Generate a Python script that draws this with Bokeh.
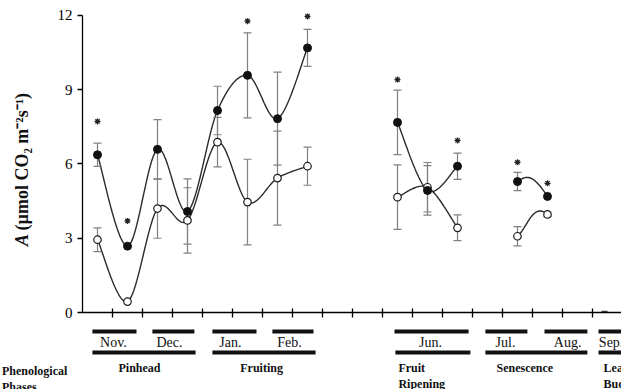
import numpy as np
from bokeh.plotting import figure
from bokeh.models import Range1d, FixedTicker
from bokeh.layouts import column, row
from bokeh.core.properties import value
from bokeh.embed import file_html
from bokeh.resources import INLINE

# ---------------- data ----------------
# sampling slots on the time axis (two samplings per month)
sample_x = [0.5, 1.5, 2.5, 3.5, 4.5, 5.5, 6.5, 7.5, 10.5, 11.5, 12.5, 14.5, 15.5]
# filled circles
series_a = [6.37, 2.68, 6.59, 4.08, 8.16, 9.58, 7.83, 10.69, 7.68, 4.93, 5.91, 5.29, 4.69]
series_a_err = [0.47, 0.0, 1.20, 1.32, 0.98, 1.72, 1.88, 0.75, 1.30, 1.00, 0.53, 0.37, 0.0]
# open circles
series_b = [2.94, 0.44, 4.20, 3.72, 6.88, 4.46, 5.43, 5.91, 4.66, 5.06, 3.42, 3.08, 3.96]
series_b_err = [0.48, 0.0, 1.20, 1.32, 1.00, 1.73, 1.90, 0.77, 1.30, 1.00, 0.52, 0.39, 0.10]
# continuous runs of samplings
runs = [(0, 8), (8, 11), (11, 13)]
# significance asterisks
sig_x = [0.5, 1.5, 5.5, 7.5, 10.5, 12.5, 14.5, 15.5]
sig_y = [7.72, 3.70, 11.77, 11.96, 9.41, 6.95, 6.07, 5.22]
# September reading (near zero)
sep_x = [17.4]
sep_y = [0.03]

y_ticks = [0, 3, 6, 9, 12]
x_ticks = list(range(1, 18))

months = ["Nov.", "Dec.", "Jan.", "Feb.", "Jun.", "Jul.", "Aug.", "Sep."]
month_start = [0.33, 2.33, 4.33, 6.33, 10.40, 13.43, 15.40, 17.20]
month_end = [1.80, 3.73, 5.80, 7.70, 12.87, 14.83, 16.83, 18.60]
month_label_x = [1.03, 2.90, 4.93, 6.90, 11.60, 14.10, 16.17, 17.62]

phase_line1 = ["Pinhead", "Fruiting", "Fruit", "Senescence", "Leaf"]
phase_line2 = ["", "", "Ripening", "", "Budding"]
phase_start = [0.33, 4.33, 10.43, 13.43, 17.20]
phase_end = [3.77, 7.77, 12.93, 16.83, 18.60]
phase_label_x = [1.90, 5.97, 10.53, 13.80, 17.37]
phase_align = ["center", "center", "left", "left", "left"]

y_title_main = "A"
y_title_rest = "(µmol CO₂ m⁻²s⁻¹)"

# ---------------- layout constants ----------------
W = 621
TITLE_W = 40
LEFT = 82
PX_PER_X = 30.0
FRAME_W = W - LEFT
H1 = 322
H2 = 67

SERIF = "Liberation Serif"
CURVE = "#2a2a2a"
ERR = "#808080"
INK = "#111111"


def smooth(xs, ys, pre=None, post=None, n=30):
    """Excel-like smoothed line (Bezier with 1/6 tangents)."""
    pts = np.column_stack([xs, ys]).astype(float)
    first = np.array(pre, float) if pre is not None else pts[0]
    last = np.array(post, float) if post is not None else pts[-1]
    ext = np.vstack([first, pts, last])
    t = np.linspace(0, 1, n)[:, None]
    out = []
    for i in range(1, len(ext) - 2):
        p0, p1, p2, p3 = ext[i - 1], ext[i], ext[i + 1], ext[i + 2]
        c1 = p1 + (p2 - p0) / 6.0
        c2 = p2 - (p3 - p1) / 6.0
        seg = ((1 - t) ** 3) * p1 + 3 * ((1 - t) ** 2) * t * c1 + 3 * (1 - t) * t ** 2 * c2 + t ** 3 * p2
        out.append(seg if i == 1 else seg[1:])
    arr = np.vstack(out)
    return arr[:, 0], arr[:, 1]


# curve-shape guides for the short Jul/Aug runs (lead-in, lead-out)
guides_a = {2: ((13.5, 3.0), (17.4, 0.0))}
guides_b = {2: ((13.5, 1.8), (17.4, 0.0))}

# ---------------- y-axis title panel ----------------
yl = figure(width=TITLE_W, height=H1, x_range=Range1d(0, TITLE_W), y_range=Range1d(H1, 0),
            x_axis_type=None, y_axis_type=None, toolbar_location=None, output_backend="svg",
            min_border=0, min_border_left=0, min_border_right=0, min_border_top=0, min_border_bottom=0)
yl.outline_line_color = None
yl.grid.visible = False
TITLE_BASE_X = 21
yl.text(x=[TITLE_BASE_X], y=[251], text=[y_title_main], angle=np.pi / 2,
        text_font=value(SERIF), text_font_size="18px", text_font_style="bold italic",
        text_align="left", text_baseline="alphabetic", text_color=INK)
yl.text(x=[TITLE_BASE_X], y=[234.5], text=[y_title_rest], angle=np.pi / 2,
        text_font=value(SERIF), text_font_size="18px", text_font_style="bold",
        text_align="left", text_baseline="alphabetic", text_color=INK)

# ---------------- main chart ----------------
p = figure(width=W - TITLE_W, height=H1,
           x_range=Range1d(0, FRAME_W / PX_PER_X), y_range=Range1d(0, 12.2),
           toolbar_location=None, output_backend="svg",
           min_border_left=LEFT - TITLE_W, min_border_right=0, min_border_top=10, min_border_bottom=10)
p.outline_line_color = None
p.grid.visible = False

xa = np.array(sample_x)
for k, (s, e) in enumerate(runs):
    pre, post = guides_a.get(k, (None, None))
    cx, cy = smooth(xa[s:e], series_a[s:e], pre, post)
    p.line(cx, cy, line_color=CURVE, line_width=1.4)
    pre, post = guides_b.get(k, (None, None))
    cx, cy = smooth(xa[s:e], series_b[s:e], pre, post)
    p.line(cx, cy, line_color=CURVE, line_width=1.4)

for vals, errs in ((series_a, series_a_err), (series_b, series_b_err)):
    ex = [x for x, e in zip(sample_x, errs) if e > 0]
    lo = [v - e for v, e in zip(vals, errs) if e > 0]
    hi = [v + e for v, e in zip(vals, errs) if e > 0]
    p.segment(x0=ex, y0=lo, x1=ex, y1=hi, line_color=ERR, line_width=1.2)
    p.scatter(ex + ex, lo + hi, marker="dash", size=8, line_color=ERR, line_width=1.2)

p.scatter(sample_x, series_b, marker="circle", size=7.5, fill_color="white",
          line_color="#1a1a1a", line_width=1.2)
p.scatter(sample_x, series_a, marker="circle", size=8, fill_color=INK,
          line_color=INK, line_width=1)
p.scatter(sig_x, sig_y, marker="asterisk", size=6, line_color="#222222", line_width=1.3)
p.scatter(sep_x, sep_y, marker="dash", size=6, line_color="#444444", line_width=2)

yax = p.yaxis[0]
yax.ticker = FixedTicker(ticks=y_ticks)
yax.bounds = (0, 12)
yax.minor_tick_line_color = None
yax.major_tick_in = 0
yax.major_tick_out = 5
yax.axis_line_width = 1.3
yax.major_tick_line_width = 1.3
yax.axis_line_color = "black"
yax.major_tick_line_color = "black"
yax.major_label_standoff = 5
yax.major_label_text_font = SERIF
yax.major_label_text_font_size = "15px"
yax.major_label_text_color = "black"

xax = p.xaxis[0]
xax.ticker = FixedTicker(ticks=[], minor_ticks=x_ticks)
xax.major_tick_line_color = None
xax.minor_tick_in = 4
xax.minor_tick_out = 5
xax.minor_tick_line_width = 1.3
xax.minor_tick_line_color = "black"
xax.axis_line_width = 1.3
xax.axis_line_color = "black"

# ---------------- phenology strip ----------------
q = figure(width=W, height=H2,
           x_range=Range1d(-LEFT / PX_PER_X, FRAME_W / PX_PER_X), y_range=Range1d(H2, 0),
           x_axis_type=None, y_axis_type=None, toolbar_location=None, output_backend="svg",
           min_border=0, min_border_left=0, min_border_right=0, min_border_top=0, min_border_bottom=0)
q.outline_line_color = None
q.grid.visible = False

ROW_BAR1, ROW_MONTH, ROW_BAR2, ROW_PH1, ROW_PH2 = 9, 20, 30, 45, 61

q.segment(x0=month_start, y0=[ROW_BAR1] * len(months), x1=month_end, y1=[ROW_BAR1] * len(months),
          line_color=INK, line_width=4)
q.text(x=month_label_x, y=[ROW_MONTH] * len(months), text=months,
       text_font=value(SERIF), text_font_size="14px", text_align="center",
       text_baseline="middle", text_color=INK)
q.segment(x0=phase_start, y0=[ROW_BAR2] * len(phase_start), x1=phase_end, y1=[ROW_BAR2] * len(phase_start),
          line_color=INK, line_width=4)
for i in range(len(phase_line1)):
    q.text(x=[phase_label_x[i]], y=[ROW_PH1], text=[phase_line1[i]],
           text_font=value(SERIF), text_font_size="12px", text_font_style="bold",
           text_align=phase_align[i], text_baseline="middle", text_color=INK)
    if phase_line2[i]:
        q.text(x=[phase_label_x[i]], y=[ROW_PH2], text=[phase_line2[i]],
               text_font=value(SERIF), text_font_size="12px", text_font_style="bold",
               text_align=phase_align[i], text_baseline="middle", text_color=INK)

q.text(x=[-LEFT / PX_PER_X + 0.05], y=[ROW_PH1 + 3], text=["Phenological"],
       text_font=value(SERIF), text_font_size="12px", text_font_style="bold",
       text_align="left", text_baseline="middle", text_color=INK)
q.text(x=[-LEFT / PX_PER_X + 0.05], y=[ROW_PH2 + 3], text=["Phases"],
       text_font=value(SERIF), text_font_size="12px", text_font_style="bold",
       text_align="left", text_baseline="middle", text_color=INK)

layout = column(row(yl, p, spacing=0), q, spacing=0)
open("out.html", "w").write(file_html(layout, INLINE))
